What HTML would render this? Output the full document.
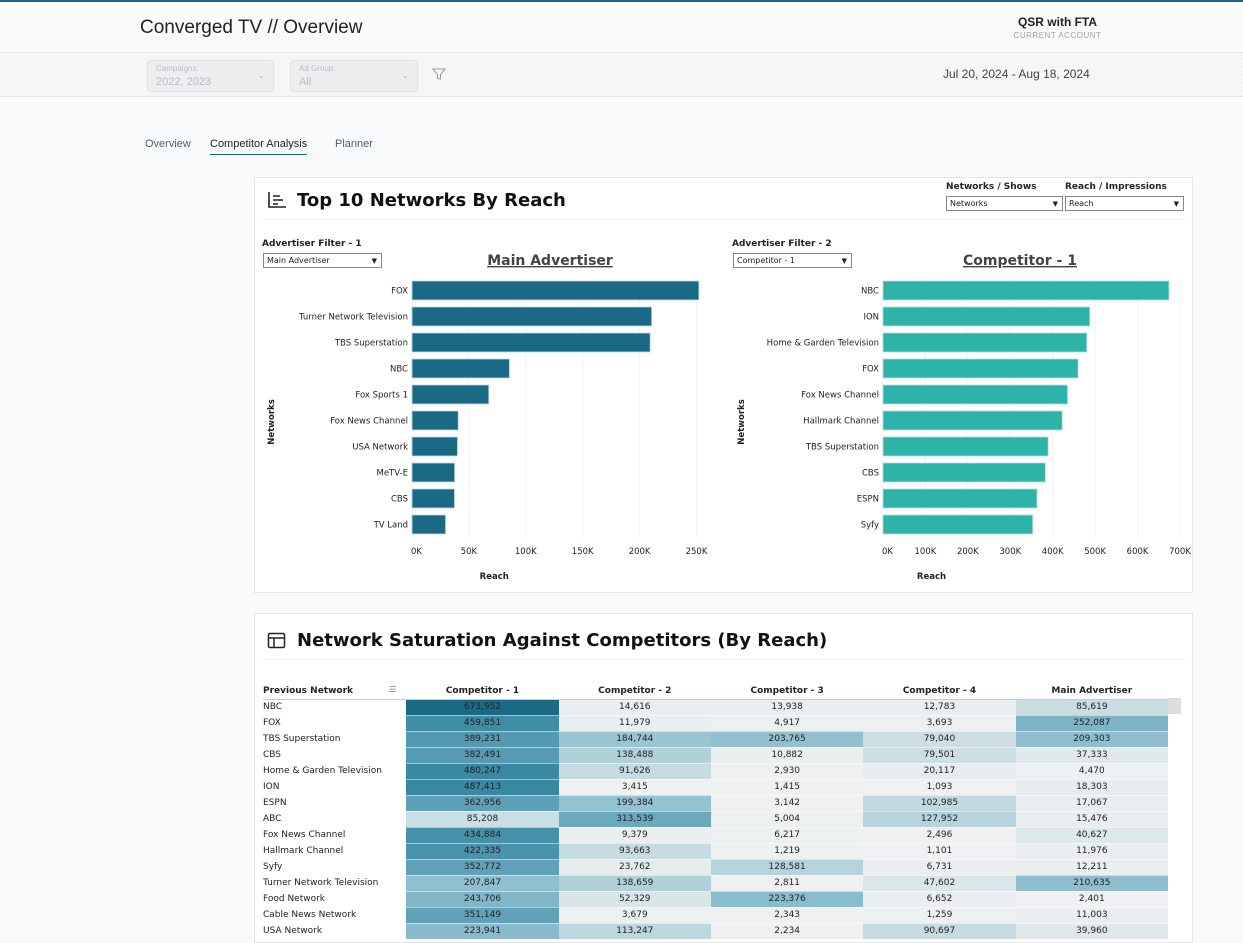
<!DOCTYPE html>
<html><head><meta charset="utf-8">
<style>
*{box-sizing:border-box;margin:0;padding:0}
body{width:1243px;height:933px;overflow:hidden;background:#f9fafb;font-family:"Liberation Sans","DejaVu Sans",sans-serif;position:relative}
.abs{position:absolute}
.hdr{left:0;top:0;width:1243px;height:53px;background:#fafafa;border-top:2px solid #1a6784;border-bottom:1px solid #e6e8ea}
.fbar{left:0;top:53px;width:1243px;height:44px;background-color:#f6f7f8;background-image:radial-gradient(#e4e6e8 0.6px,transparent 0.7px);background-size:4px 4px;border-bottom:1px solid #e6e8ea}
.sel{background:#eceeef;border:1px solid #e0e2e4;border-radius:4px;color:#b8bcc0}
.card{background:#fff;border:1px solid #e3e5e7}
.dd{border:1px solid #888;background:#fff;font-size:8px;color:#222;padding:1px 3px;height:15px;line-height:12px;font-family:"DejaVu Sans",sans-serif}
.dd span{position:absolute;right:4px;top:1px;font-size:7px}
.lbl{font-size:9px;font-weight:bold;color:#222;font-family:"DejaVu Sans",sans-serif}
table{border-collapse:collapse;font-family:"DejaVu Sans",sans-serif;font-size:9px;color:#222}
td,th{height:16px;padding:0;white-space:nowrap}
</style></head><body>
<div class="abs hdr">
  <div class="abs" style="left:140px;top:15px;font-size:19px;color:#222">Converged TV // Overview</div>
  <div class="abs" style="left:1000px;top:13px;width:115px;text-align:center;font-size:12px;font-weight:bold;color:#222">QSR with FTA</div>
  <div class="abs" style="left:1000px;top:29px;width:115px;text-align:center;font-size:8px;color:#9aa3ab;letter-spacing:.5px">CURRENT ACCOUNT</div>
</div>
<div class="abs fbar">
  <div class="abs sel" style="left:147px;top:7px;width:127px;height:32px">
    <div class="abs" style="left:8px;top:3px;font-size:8px">Campaigns:</div>
    <div class="abs" style="left:8px;top:15px;font-size:11px">2022, 2023</div>
    <div class="abs" style="right:8px;top:9px;font-size:9px">⌄</div>
  </div>
  <div class="abs sel" style="left:290px;top:7px;width:128px;height:32px">
    <div class="abs" style="left:8px;top:3px;font-size:8px">Ad Group:</div>
    <div class="abs" style="left:8px;top:15px;font-size:11px">All</div>
    <div class="abs" style="right:8px;top:9px;font-size:9px">⌄</div>
  </div>
  <svg class="abs" style="left:432px;top:14px" width="14" height="14"><path d="M1 2 H13 L8.5 7.5 V12 L5.5 11 V7.5 Z" fill="none" stroke="#999" stroke-width="1"/></svg>
  <div class="abs" style="left:943px;top:14px;font-size:12px;color:#444">Jul 20, 2024 - Aug 18, 2024</div>
</div>
<div class="abs" style="left:145px;top:138px;font-size:11px;color:#4d6170">Overview</div>
<div class="abs" style="left:210px;top:138px;font-size:11px;color:#222;border-bottom:1.5px solid #1a6784;padding-bottom:4px">Competitor Analysis</div>
<div class="abs" style="left:335px;top:138px;font-size:11px;color:#4d6170">Planner</div>

<div class="abs card" style="left:254px;top:177px;width:939px;height:416px">
  <svg class="abs" style="left:12px;top:13px" width="20" height="18"><path d="M2 1V16H19" fill="none" stroke="#222" stroke-width="1.6"/><path d="M6 5H13M6 9H16M6 13H11" stroke="#222" stroke-width="1.6"/></svg>
  <div class="abs" style="left:42px;top:12px;font-size:18px;font-weight:bold;color:#111;font-family:'DejaVu Sans',sans-serif">Top 10 Networks By Reach</div>
  <div class="abs" style="left:8px;top:41px;width:922px;height:1px;background:#eceeef"></div>
  <div class="abs lbl" style="left:691px;top:4px">Networks / Shows</div>
  <div class="abs dd" style="left:691px;top:18px;width:117px">Networks<span>▼</span></div>
  <div class="abs lbl" style="left:810px;top:4px">Reach / Impressions</div>
  <div class="abs dd" style="left:810px;top:18px;width:119px">Reach<span>▼</span></div>
  <div class="abs lbl" style="left:7px;top:61px">Advertiser Filter - 1</div>
  <div class="abs dd" style="left:8px;top:75px;width:119px">Main Advertiser<span>▼</span></div>
  <div class="abs lbl" style="left:477px;top:61px">Advertiser Filter - 2</div>
  <div class="abs dd" style="left:478px;top:75px;width:119px">Competitor - 1<span>▼</span></div>
  <svg id="charts" class="abs" style="left:0;top:0" width="939" height="416"></svg>
</div>

<div class="abs card" style="left:254px;top:613px;width:939px;height:330px">
  <svg class="abs" style="left:12px;top:18px" width="20" height="18"><rect x="1.5" y="1.5" width="16" height="14" rx="1.5" fill="none" stroke="#222" stroke-width="1.5"/><path d="M1.5 6H17.5M7 6V15.5" stroke="#222" stroke-width="1.5"/></svg>
  <div class="abs" style="left:42px;top:16px;font-size:18px;font-weight:bold;color:#111;font-family:'DejaVu Sans',sans-serif">Network Saturation Against Competitors (By Reach)</div>
  <div class="abs" style="left:8px;top:45px;width:922px;height:1px;background:#eceeef"></div>
  <div class="abs" style="left:913px;top:84px;width:13px;height:16px;background:#ddd"></div>
  <table id="heat" class="abs" style="left:8px;top:69px;width:905px"></table>
</div>

<script>
// ---- bar chart data ----
const mainCats=["FOX","Turner Network Television","TBS Superstation","NBC","Fox Sports 1","Fox News Channel","USA Network","MeTV-E","CBS","TV Land"];
const mainVals=[252087,210635,209303,85619,67500,40627,39960,37500,37333,29500];
const mainTicks=[0,50000,100000,150000,200000,250000];
const compCats=["NBC","ION","Home & Garden Television","FOX","Fox News Channel","Hallmark Channel","TBS Superstation","CBS","ESPN","Syfy"];
const compVals=[673952,487413,480247,459851,434884,422335,389231,382491,362956,352772];
const compTicks=[0,100000,200000,300000,400000,500000,600000,700000];
// ---- heatmap data ----
const heatRows=["NBC","FOX","TBS Superstation","CBS","Home & Garden Television","ION","ESPN","ABC","Fox News Channel","Hallmark Channel","Syfy","Turner Network Television","Food Network","Cable News Network","USA Network"];
const heatCols=["Competitor - 1","Competitor - 2","Competitor - 3","Competitor - 4","Main Advertiser"];
const comp1=[673952,459851,389231,382491,480247,487413,362956,85208,434884,422335,352772,207847,243706,351149,223941];
const comp2=[14616,11979,184744,138488,91626,3415,199384,313539,9379,93663,23762,138659,52329,3679,113247];
const comp3=[13938,4917,203765,10882,2930,1415,3142,5004,6217,1219,128581,2811,223376,2343,2234];
const comp4=[12783,3693,79040,79501,20117,1093,102985,127952,2496,1101,6731,47602,6652,1259,90697];
const mainAdv=[85619,252087,209303,37333,4470,18303,17067,15476,40627,11976,12211,210635,2401,11003,39960];

const NS="http://www.w3.org/2000/svg";
const svg=document.getElementById('charts');
function mk(t,a,p){const e=document.createElementNS(NS,t);for(const k in a)e.setAttribute(k,a[k]);(p||svg).appendChild(e);return e;}
function fmt(v){return (v/1000)+"K";}
function drawChart(cats,vals,ticks,x0,x1,maxV,color,title,titleX,nm){
  const sx=v=>x0+v/maxV*(x1-x0);
  const yTop=103,step=26,bh=19;
  const sy=i=>yTop+i*step;
  ticks.forEach((t,i)=>{
    const g=mk('line',{x1:sx(t),x2:sx(t),y1:yTop-3,y2:yTop+step*cats.length-4,stroke:'#f0f1f2','stroke-width':1});
    
    
    const tx=mk('text',{x:sx(t)+(i==0?-1:0),y:376,'text-anchor':i==0?'start':'middle','font-size':8.5,fill:'#222','font-family':'DejaVu Sans,sans-serif'});
    tx.textContent=fmt(t);
    
    
  });
  cats.forEach((c,i)=>{
    const r=mk('rect',{x:sx(0),y:sy(i),width:sx(vals[i])-sx(0),height:bh,fill:color,stroke:'#b9dde6','stroke-width':0.8});
    
    
    const l=mk('text',{x:x0-4,y:sy(i)+bh/2+3,'text-anchor':'end','font-size':8.5,fill:'#222','font-family':'DejaVu Sans,sans-serif'});
    l.textContent=c;
    
    
  });
  const tt=mk('text',{x:titleX,y:87,'text-anchor':'middle','font-size':14,'font-weight':'bold',fill:'#444','text-decoration':'underline','font-family':'DejaVu Sans,sans-serif'});
  tt.textContent=title;
  
  
  const xt=mk('text',{x:(x0+x1)/2-( nm=='main'?60:100),y:401,'text-anchor':'middle','font-size':8.5,'font-weight':'bold',fill:'#222','font-family':'DejaVu Sans,sans-serif'});
  xt.textContent='Reach';
  
  
  const yx=nm=='main'?19:489;
  const yt=mk('text',{x:yx,y:244,'text-anchor':'middle','font-size':8.5,'font-weight':'bold',fill:'#222',transform:`rotate(-90 ${yx} 244)`,'font-family':'DejaVu Sans,sans-serif'});
  yt.textContent='Networks';
  
  
}
drawChart(mainCats,mainVals,mainTicks,157,441.5,250000,'#1b6a85','Main Advertiser',295,'main');
drawChart(compCats,compVals,compTicks,628,925,700000,'#2db3a8','Competitor - 1',765,'comp');

// heatmap
const tbl=document.getElementById('heat');
const cols=[comp1,comp2,comp3,comp4,mainAdv];
const maxH=Math.max(...cols.flat());
const stops=[[0,[239,241,242]],[0.13,[201,221,227]],[0.27,[154,198,211]],[0.37,[127,181,200]],[0.58,[84,153,177]],[0.71,[58,136,162]],[1,[27,106,133]]];
function color(v){
  const t=v/maxH;
  for(let i=1;i<stops.length;i++){
    if(t<=stops[i][0]){
      const [t0,a]=stops[i-1],[t1,b]=stops[i];
      const f=(t-t0)/(t1-t0);
      return 'rgb('+a.map((c,k)=>Math.round(c+(b[k]-c)*f)).join(',')+')';
    }
  }
  return 'rgb(27,106,133)';
}
let hr=document.createElement('tr');
hr.style.borderBottom='1px solid #ccc';
let th=document.createElement('th');
th.style.cssText='text-align:left;width:143px;padding-left:0;position:relative';
th.innerHTML='Previous Network<span style="position:absolute;right:10px;top:2px;color:#777;font-size:8px">☰</span>';


hr.appendChild(th);
heatCols.forEach(c=>{const h=document.createElement('th');h.textContent=c;h.style.width='152px';


hr.appendChild(h);});
tbl.appendChild(hr);
heatRows.forEach((r,i)=>{
  const tr=document.createElement('tr');
  const td=document.createElement('td');td.textContent=r;
  
  
  tr.appendChild(td);
  cols.forEach(col=>{
    const c=document.createElement('td');
    c.textContent=col[i].toLocaleString('en-US');
    c.style.textAlign='center';c.style.background=color(col[i]);
    c.style.borderBottom='1px solid rgba(255,255,255,0.5)';
    
    
    tr.appendChild(c);
  });
  tbl.appendChild(tr);
});
</script>
</body></html>
